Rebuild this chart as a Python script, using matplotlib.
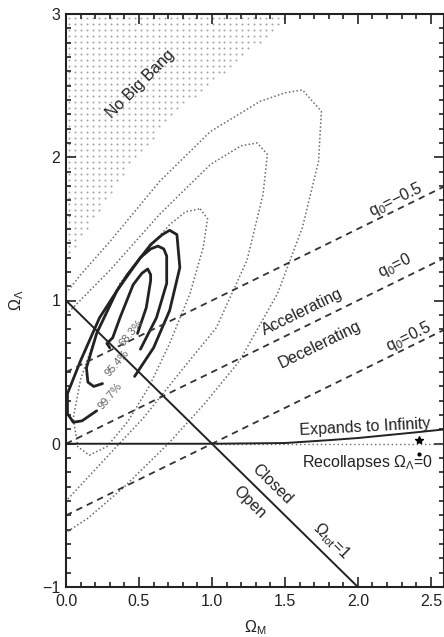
import numpy as np
import matplotlib
matplotlib.use('Agg')
import matplotlib.pyplot as plt
from matplotlib.ticker import MultipleLocator, FormatStrFormatter

plt.rcParams['font.family'] = ['Liberation Sans', 'DejaVu Sans']
plt.rcParams['mathtext.fontset'] = 'custom'
plt.rcParams['mathtext.rm'] = 'Liberation Sans'
plt.rcParams['mathtext.it'] = 'Liberation Sans'

# ---------------- data ----------------
x_limits = [0.0, 2.59]
y_limits = [-1.0, 3.0]
x_ticks = [0.0, 0.5, 1.0, 1.5, 2.0, 2.5]
y_ticks = [-1, 0, 1, 2, 3]
y_tick_labels = ['−1', '0', '1', '2', '3']

# "No Big Bang" boundary
nbb_m = [0.0, 0.10, 0.23, 0.37, 0.55, 0.76, 1.01, 1.21, 1.36, 1.50, 1.54]
nbb_l = [1.25, 1.41, 1.60, 1.83, 2.06, 2.30, 2.51, 2.67, 2.81, 2.95, 3.00]

# flat universe line (Omega_tot = 1)
flat_m = [0.0, 2.0]
flat_l = [1.0, -1.0]

# q0 lines: endpoints
q0_labels = ['-0.5', '0', '0.5']
q0_m = [0.0, 2.59]
q0_l_start = [0.5, 0.0, -0.5]
q0_l_end = [1.795, 1.295, 0.795]

# expand / recollapse boundary
exp_m = [0.0, 1.0, 1.5, 1.8, 2.0, 2.2, 2.4, 2.59]
exp_l = [0.0, 0.0, 0.005, 0.025, 0.04, 0.06, 0.08, 0.10]
lam0_m = [1.0, 2.59]
lam0_l = [0.0, 0.0]
marker_m = [2.42]
marker_l = [0.025]

# solid confidence contours (68.3, 95.4, 99.7 %)
solid_683_m = [0.30, 0.28, 0.32, 0.37, 0.46, 0.52, 0.56, 0.58, 0.58, 0.55, 0.49]
solid_683_l = [0.67, 0.70, 0.74, 0.88, 1.11, 1.19, 1.22, 1.18, 1.14, 0.95, 0.77]
solid_954_m = [0.25, 0.19, 0.15, 0.14, 0.21, 0.35, 0.51, 0.58, 0.63, 0.67, 0.69, 0.69, 0.62, 0.51]
solid_954_l = [0.42, 0.40, 0.43, 0.53, 0.77, 1.07, 1.30, 1.36, 1.38, 1.36, 1.31, 1.12, 0.88, 0.66]
solid_997_m = [0.21, 0.11, 0.05, 0.01, 0.01, 0.10, 0.23, 0.42, 0.58, 0.66, 0.71, 0.76, 0.78, 0.71, 0.60, 0.47]
solid_997_l = [0.23, 0.16, 0.15, 0.21, 0.35, 0.58, 0.88, 1.18, 1.39, 1.46, 1.49, 1.46, 1.23, 0.93, 0.67, 0.47]

# dotted confidence contours
dot_1_m = [0.92, 0.97, 0.94, 0.85, 0.71, 0.57, 0.42, 0.28, 0.16, 0.08, 0.05, 0.10, 0.22, 0.37, 0.53, 0.71, 0.82, 0.92]
dot_1_l = [1.64, 1.57, 1.37, 1.05, 0.70, 0.40, 0.15, -0.02, -0.08, -0.02, 0.18, 0.45, 0.80, 1.12, 1.32, 1.53, 1.62, 1.64]
dot_2_m = [0.0, 0.30, 0.64, 0.99, 1.20, 1.31, 1.38, 1.35, 1.24, 1.03, 0.83, 0.53, 0.30, 0.0]
dot_2_l = [0.90, 1.21, 1.60, 1.95, 2.08, 2.10, 2.02, 1.74, 1.28, 0.81, 0.56, 0.18, -0.07, -0.40]
dot_3_m = [0.0, 0.10, 0.30, 0.64, 0.99, 1.33, 1.50, 1.62, 1.75, 1.73, 1.62, 1.45, 1.19, 0.95, 0.70, 0.40, 0.15, 0.0]
dot_3_l = [1.05, 1.18, 1.41, 1.83, 2.18, 2.39, 2.45, 2.47, 2.32, 1.97, 1.51, 1.05, 0.58, 0.28, 0.0, -0.30, -0.52, -0.62]

# text annotations
conf_labels = ['68.3%', '95.4%', '99.7%']
conf_label_m = [0.45, 0.35, 0.30]
conf_label_l = [0.77, 0.56, 0.33]

# ---------------- figure ----------------
W, H, DPI = 444, 637, 100
fig = plt.figure(figsize=(W / DPI, H / DPI), dpi=DPI)
ax = fig.add_axes([66 / W, 1 - 587 / H, (W - 66) / W, (587 - 14) / H])
ax.set_xlim(*x_limits)
ax.set_ylim(*y_limits)

ink = '#222222'
gray = '#6a6a6a'

# No Big Bang stipple (regular dot texture above the boundary)
gx, gy = np.meshgrid(np.arange(0.02, 1.6, 0.041), np.arange(1.0, 3.0, 0.042))
keep = gy > np.interp(gx, nbb_m, nbb_l) + 0.02
ax.scatter(gx[keep], gy[keep], s=2.2, color='#a8a8a8', linewidths=0, zorder=1)

# contours
for m, l in [(dot_1_m, dot_1_l), (dot_2_m, dot_2_l), (dot_3_m, dot_3_l)]:
    ax.plot(m, l, linestyle=(0, (1, 1.5)), color=gray, lw=1.1)
for m, l in [(solid_683_m, solid_683_l), (solid_954_m, solid_954_l), (solid_997_m, solid_997_l)]:
    ax.plot(m, l, '-', color=ink, lw=2.0, solid_capstyle='round')

# lines
for s, e in zip(q0_l_start, q0_l_end):
    ax.plot(q0_m, [s, e], linestyle=(0, (3.6, 2.8)), color='#333333', lw=1.3)
ax.plot(flat_m, flat_l, '-', color=ink, lw=1.4)
ax.plot(lam0_m, lam0_l, linestyle=(0, (1, 2)), color=gray, lw=1.0)
ax.plot(exp_m, exp_l, '-', color=ink, lw=1.4)
ax.plot(marker_m, marker_l, marker='*', color='black', ms=6, ls='none')

# confidence labels
for t, m, l in zip(conf_labels, conf_label_m, conf_label_l):
    ax.text(m, l, t, rotation=50, color='#666666', fontsize=8,
            ha='center', va='center', rotation_mode='anchor')

fs = 11.5
kw = dict(fontsize=fs, color=ink, ha='center', va='center', rotation_mode='anchor')
ax.text(0.51, 2.51, 'No Big Bang', rotation=45, **kw)
ax.text(2.26, 1.70, '$\\mathregular{q_0}$=−0.5', rotation=26, **kw)
ax.text(2.25, 1.24, '$\\mathregular{q_0}$=0', rotation=26, **kw)
ax.text(2.35, 0.75, '$\\mathregular{q_0}$=0.5', rotation=26, **kw)
ax.text(1.62, 0.92, 'Accelerating', rotation=26, **kw)
ax.text(1.74, 0.69, 'Decelerating', rotation=26, **kw)
ax.text(2.05, 0.115, 'Expands to Infinity', rotation=3, **kw)
ax.text(2.07, -0.13, 'Recollapses $\\mathregular{\\Omega_\\Lambda}$=0', **kw)
ax.plot([2.42], [-0.07], marker='o', color='black', ms=2, ls='none')
ax.text(1.41, -0.28, 'Closed', rotation=-44.5, **kw)
ax.text(1.26, -0.41, 'Open', rotation=-44.5, **kw)
ax.text(1.82, -0.68, '$\\mathregular{\\Omega_{tot}}$=1', rotation=-44.5, **kw)

# axes styling
ax.set_xticks(x_ticks)
ax.set_yticks(y_ticks)
ax.xaxis.set_major_formatter(FormatStrFormatter('%.1f'))
ax.set_yticklabels(y_tick_labels)
ax.xaxis.set_minor_locator(MultipleLocator(0.1))
ax.yaxis.set_minor_locator(MultipleLocator(0.1))
ax.tick_params(which='both', direction='in', top=True, right=True, colors=ink,
               labelsize=11.5, width=1.2)
ax.tick_params(which='major', length=7)
ax.tick_params(which='minor', length=3.5)
ax.tick_params(axis='x', pad=5)
ax.tick_params(axis='y', pad=4)
for sp in ax.spines.values():
    sp.set_linewidth(1.5)
    sp.set_color(ink)
ax.set_xlabel('$\\mathregular{\\Omega_M}$', fontsize=11.5, color=ink)
ax.set_ylabel('$\\mathregular{\\Omega_\\Lambda}$', fontsize=11.5, color=ink)
ax.xaxis.set_label_coords(0.5, -41 / 573)
ax.yaxis.set_label_coords(-49 / 378, 0.5)
ax.xaxis.label.set_va('center')
ax.yaxis.label.set_va('center')

fig.savefig('out.png', dpi=DPI)
